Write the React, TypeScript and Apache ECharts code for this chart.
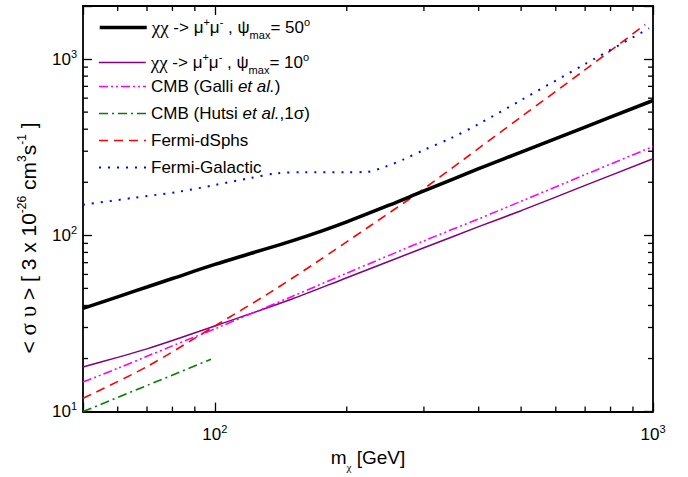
import React, { useEffect, useRef } from "react";
import * as echarts from "echarts";

const FONT = "'Liberation Sans', Arial, Helvetica, sans-serif";
const GREEK = "'Liberation Serif', 'Times New Roman', serif";

// ---- data ----
const massPsi50 = [50, 60, 70, 80, 100, 120, 150, 175, 200, 250, 300, 400, 500, 700, 1000];
const sigmaPsi50 = [38.5, 44.8, 50.9, 56.9, 68.4, 78.6, 93.1, 105.7, 119.2, 148.3, 178.6, 238.7, 296.4, 411, 582];
const massGrid = [50, 60, 70, 80, 100, 150, 200, 300, 400, 500, 700, 1000];
const sigmaPsi10 = [17.9, 20.3, 22.7, 25.3, 30.6, 43.5, 57.5, 85, 112, 138, 192, 272];
const sigmaGalli = [14.7, 17.6, 20.6, 23.6, 29.5, 45, 61, 93, 124, 156, 221, 319];
const massHutsi = [50, 98];
const sigmaHutsi = [10, 19.8];
const massDSphs = [50, 70, 100, 134, 170, 226, 290, 370, 500, 700, 960];
const sigmaDSphs = [11.9, 18, 30.6, 47.6, 70, 113, 173, 270, 470, 870, 1570];
const massGalactic = [50, 65, 83, 100, 120, 139, 160, 200, 222, 245, 270, 300, 345, 400, 500, 700, 980];
const sigmaGalactic = [149, 163, 177, 193, 211, 225, 228, 228, 229, 245, 270, 305, 355, 428, 585, 937, 1495];

const xMinorTicks = [60, 70, 80, 90, 200, 300, 400, 500, 600, 700, 800, 900];
const yMinorTicks = [20, 30, 40, 50, 60, 70, 80, 90, 200, 300, 400, 500, 600, 700, 800, 900];
const xRange = [50, 1000];
const yRange = [10, 2000];

const seriesNames = [
  "χχ -> μ+μ- , ψmax= 50°",
  "χχ -> μ+μ- , ψmax= 10°",
  "CMB (Galli et al.)",
  "CMB (Hutsi et al.,1σ)",
  "Fermi-dSphs",
  "Fermi-Galactic",
];
const legendLabels: Record<string, string> = {
  [seriesNames[0]]: "{g|χχ}{b| -> μ}{sup|+}{b|μ}{sup|-}{b| , ψ}{sub|max}{b|= 50}{sup|o}",
  [seriesNames[1]]: "{g|χχ}{b| -> μ}{sup|+}{b|μ}{sup|-}{b| , ψ}{sub|max}{b|= 10}{sup|o}",
  [seriesNames[2]]: "{b|CMB (Galli }{i|et al.}{b|)}",
  [seriesNames[3]]: "{b|CMB (Hutsi }{i|et al.}{b|,1σ)}",
  [seriesNames[4]]: "{b|Fermi-dSphs}",
  [seriesNames[5]]: "{b|Fermi-Galactic}",
};
const yTitle = "{b|< }{g|σ υ}{b| > [ 3 x 10}{sup|-26}{b| cm}{sup|3}{b|s}{sup|-1}{b| ]}";
const xTitle = "{b|m}{sub|χ}{b| [GeV]}";

const zip = (xs: number[], ys: number[]) => xs.map((x, i) => [x, ys[i]]);

const richText = {
  b: { fontSize: 17, fontFamily: FONT, color: "#000" },
  g: { fontSize: 19, fontFamily: GREEK, color: "#000" },
  i: { fontSize: 17, fontFamily: FONT, color: "#000", fontStyle: "italic" },
  sup: { fontSize: 11, fontFamily: FONT, color: "#000", padding: [0, 0, 12, 0] },
  sub: { fontSize: 11, fontFamily: FONT, color: "#000", padding: [14, 0, 0, 0] },
};

const powLabel = (v: number) => {
  const e = Math.log10(v);
  const r = Math.round(e);
  if (Math.abs(e - r) > 1e-6) return "";
  return `{b|10}{s|${r}}`;
};

const axisRich = {
  b: { fontSize: 17, fontFamily: FONT, color: "#000" },
  s: { fontSize: 11, fontFamily: FONT, color: "#000", padding: [0, 0, 11, 0] },
};

function tickRenderer(dir: "x" | "y") {
  return (params: any, api: any) => {
    const v = api.value(0);
    const cs = params.coordSys;
    const st = { stroke: "#000", lineWidth: 1.3 };
    const L = 5;
    if (dir === "x") {
      const x = api.coord([v, 100])[0];
      const b = cs.y + cs.height;
      return {
        type: "group",
        children: [
          { type: "line", shape: { x1: x, y1: b, x2: x, y2: b - L }, style: st },
          { type: "line", shape: { x1: x, y1: cs.y, x2: x, y2: cs.y + L }, style: st },
        ],
      };
    }
    const y = api.coord([100, v])[1];
    const r = cs.x + cs.width;
    return {
      type: "group",
      children: [
        { type: "line", shape: { x1: cs.x, y1: y, x2: cs.x + L, y2: y }, style: st },
        { type: "line", shape: { x1: r, y1: y, x2: r - L, y2: y }, style: st },
      ],
    };
  };
}

const HIDDEN = "rgba(0,0,0,0)";

export default function App() {
  const ref = useRef<HTMLDivElement>(null);
  useEffect(() => {
    if (!ref.current) return;
    const chart = echarts.init(ref.current, null, { renderer: "svg" });
    const axisCommon = {
      type: "log",
      logBase: 10,
      axisLine: { show: true, lineStyle: { color: "#000", width: 1.8 } },
      axisTick: { show: true, inside: true, length: 9, lineStyle: { color: "#000", width: 1.3 } },
      splitLine: { show: false },
      minorTick: { show: false },
    };
    const legendBase = {
      orient: "vertical",
      left: 98,
      padding: 0,
      itemWidth: 47,
      itemHeight: 14,
      selectedMode: false,
      itemStyle: { color: HIDDEN, borderWidth: 0, opacity: 0 },
      lineStyle: { width: "inherit" },
      formatter: (name: string) => legendLabels[name],
      textStyle: { fontSize: 17, fontFamily: FONT, color: "#000", rich: richText },
    };
    const lineSeries = (name: string, data: number[][], color: string, width: number, type: any, smooth: number | boolean) => ({
      name,
      type: "line",
      data,
      symbol: "none",
      showSymbol: false,
      smooth,
      lineStyle: { color, width, type },
      itemStyle: { color: HIDDEN },
    });
    const option: any = {
      animation: false,
      backgroundColor: "#fff",
      grid: { left: 83, right: 35, top: 6, bottom: 54, containLabel: false },
      xAxis: [
        {
          ...axisCommon,
          min: xRange[0],
          max: xRange[1],
          position: "bottom",
          axisLabel: { formatter: powLabel, margin: 12, rich: axisRich },
          name: xTitle,
          nameLocation: "middle",
          nameGap: 26,
          nameTextStyle: {
            fontSize: 19,
            fontFamily: FONT,
            color: "#000",
            rich: {
              b: { fontSize: 19, fontFamily: FONT, color: "#000" },
              sub: { fontSize: 11, fontFamily: GREEK, color: "#000", padding: [18, 0, 0, 0] },
            },
          },
        },
        {
          ...axisCommon,
          min: xRange[0],
          max: xRange[1],
          position: "top",
          axisLabel: { show: false },
        },
      ],
      yAxis: [
        {
          ...axisCommon,
          min: yRange[0],
          max: yRange[1],
          position: "left",
          axisLabel: { formatter: powLabel, margin: 6, rich: axisRich },
        },
        {
          ...axisCommon,
          min: yRange[0],
          max: yRange[1],
          position: "right",
          axisLabel: { show: false },
        },
      ],
      graphic: [
        {
          type: "text",
          x: 28,
          y: 238,
          rotation: Math.PI / 2,
          silent: true,
          style: {
            text: yTitle,
            fill: "#000",
            font: `21px ${FONT}`,
            align: "center",
            verticalAlign: "middle",
            textAlign: "center",
            textVerticalAlign: "middle",
            rich: {
              b: { fontSize: 21, fontFamily: FONT, fill: "#000", color: "#000" },
              g: { fontSize: 23, fontFamily: GREEK, fill: "#000", color: "#000" },
              sup: { fontSize: 12, fontFamily: FONT, fill: "#000", color: "#000", padding: [0, 0, 13, 0] },
            },
          },
        },
      ],
      legend: [
        { ...legendBase, top: 16, data: [seriesNames[0]], lineStyle: { width: 3.5 } },
        { ...legendBase, top: 51, data: [seriesNames[1]] },
        { ...legendBase, top: 78, itemGap: 10, data: seriesNames.slice(2) },
      ],
      series: [
        { ...lineSeries(seriesNames[0], zip(massPsi50, sigmaPsi50), "#000000", 3.5, "solid", 0.4), z: 5 },
        lineSeries(seriesNames[1], zip(massGrid, sigmaPsi10), "#800080", 1.5, "solid", 0.3),
        lineSeries(seriesNames[2], zip(massGrid, sigmaGalli), "#ff00ff", 1.6, [9, 3, 2, 3, 2, 3], 0.3),
        lineSeries(seriesNames[3], zip(massHutsi, sigmaHutsi), "#008000", 1.6, [9, 4, 2, 4], false),
        lineSeries(seriesNames[4], zip(massDSphs, sigmaDSphs), "#ff0000", 1.6, [9, 6], 0.3),
        lineSeries(seriesNames[5], zip(massGalactic, sigmaGalactic), "#0000ff", 2, [2, 7], 0.3),
        {
          type: "custom",
          silent: true,
          clip: false,
          renderItem: tickRenderer("x"),
          data: xMinorTicks.map((v) => [v, 100]),
          z: 10,
        },
        {
          type: "custom",
          silent: true,
          clip: false,
          renderItem: tickRenderer("y"),
          data: yMinorTicks.map((v) => [v]),
          encode: { y: 0 },
          z: 10,
        },
      ],
    };
    chart.setOption(option);
    return () => chart.dispose();
  }, []);
  return (
    <div
      ref={ref}
      style={{ position: "absolute", left: 0, top: 0, width: 688, height: 477, background: "#fff" }}
    />
  );
}
